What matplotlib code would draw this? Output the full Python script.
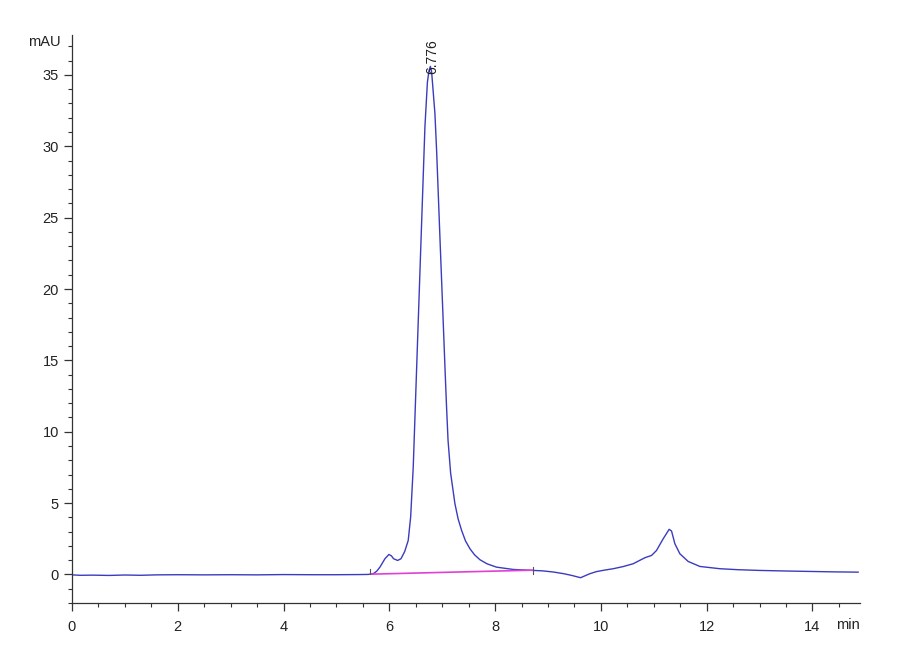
import matplotlib.pyplot as plt
from matplotlib.ticker import MultipleLocator

# chromatogram trace (time in min, signal in mAU)
time_min = [0.0, 0.15, 0.4, 0.7, 1.0, 1.3, 1.6, 2.0, 2.5, 3.0, 3.5, 4.0, 4.5,
            5.0, 5.4, 5.6, 5.696, 5.76, 5.822, 5.917, 5.992, 6.04, 6.08, 6.157,
            6.22, 6.29, 6.357, 6.403, 6.452, 6.50, 6.55, 6.60, 6.673, 6.72,
            6.75, 6.776, 6.80, 6.83, 6.862, 6.894, 6.924, 6.96, 7.0, 7.051,
            7.08, 7.11, 7.159, 7.24, 7.30, 7.366, 7.44, 7.524, 7.61, 7.713,
            7.85, 8.028, 8.34, 8.66, 8.9, 9.1, 9.3, 9.45, 9.616, 9.79, 9.918,
            10.08, 10.233, 10.42, 10.611, 10.832, 10.958, 11.052, 11.178,
            11.291, 11.336, 11.399, 11.493, 11.65, 11.871, 12.25, 12.6, 13.006,
            13.5, 13.951, 14.4, 14.864]
signal_mau = [-0.03, -0.06, -0.05, -0.07, -0.04, -0.06, -0.03, -0.02, -0.03,
              -0.02, -0.03, -0.01, -0.02, -0.02, -0.01, 0.0, 0.05, 0.22, 0.51,
              1.10, 1.40, 1.30, 1.10, 0.98, 1.10, 1.60, 2.38, 4.02, 7.52, 12.7,
              18.1, 23.5, 31.37, 34.5, 35.3, 35.6, 35.2, 33.8, 32.3, 29.7, 26.8,
              23.3, 19.5, 14.6, 11.9, 9.4, 7.1, 4.96, 3.9, 3.09, 2.35, 1.80,
              1.38, 1.03, 0.74, 0.51, 0.35, 0.29, 0.25, 0.17, 0.05, -0.07,
              -0.23, 0.05, 0.20, 0.31, 0.40, 0.55, 0.75, 1.17, 1.33, 1.68, 2.50,
              3.16, 3.04, 2.15, 1.45, 0.91, 0.56, 0.40, 0.33, 0.28, 0.24, 0.21,
              0.18, 0.16]

# integration baseline
base_t = [5.665, 8.72]
base_y = [0.02, 0.30]

peak_rt = 6.776
peak_h = 35.6

plt.rcParams['font.family'] = ['Liberation Sans', 'DejaVu Sans']

fig = plt.figure(figsize=(9, 6.6), dpi=100)
ax = fig.add_axes([0.08, 0.0864, 0.8756, 0.8606])

ax.plot(time_min, signal_mau, color='#3b3bbf', linewidth=1.0)
ax.plot(base_t, base_y, color='#e040d8', linewidth=1.2)
# baseline start / end marks
ax.plot([base_t[0] - 0.03, base_t[0] - 0.03], [base_y[0], base_y[0] + 0.35], color='#555555', linewidth=0.8)
ax.plot([base_t[1], base_t[1]], [base_y[1] - 0.25, base_y[1] + 0.2], color='#555555', linewidth=0.8)

ax.text(peak_rt + 0.03, peak_h - 0.5, '6.776', rotation=90, ha='center', va='bottom',
        fontsize=10, color='#222222')

ax.set_xlim(0, 14.9)
ax.set_ylim(-2.0, 37.8)
ax.xaxis.set_major_locator(MultipleLocator(2))
ax.xaxis.set_minor_locator(MultipleLocator(0.5))
ax.yaxis.set_major_locator(MultipleLocator(5))
ax.yaxis.set_minor_locator(MultipleLocator(1))

for s in ['top', 'right']:
    ax.spines[s].set_visible(False)
for s in ['left', 'bottom']:
    ax.spines[s].set_color('#333333')
    ax.spines[s].set_linewidth(0.9)

ax.tick_params(which='major', length=6, width=0.9, color='#333333', labelsize=10.5,
               labelcolor='#222222')
ax.tick_params(which='minor', length=3, width=0.8, color='#333333')
ax.tick_params(axis='x', pad=6)

ax.text(-0.015, 1.0, 'mAU', transform=ax.transAxes, ha='right', va='top', fontsize=10.5,
        color='#222222')
ax.text(1.0, -0.026, 'min', transform=ax.transAxes, ha='right', va='top', fontsize=10.5,
        color='#222222')

fig.savefig('out.png', dpi=100, facecolor='white')
